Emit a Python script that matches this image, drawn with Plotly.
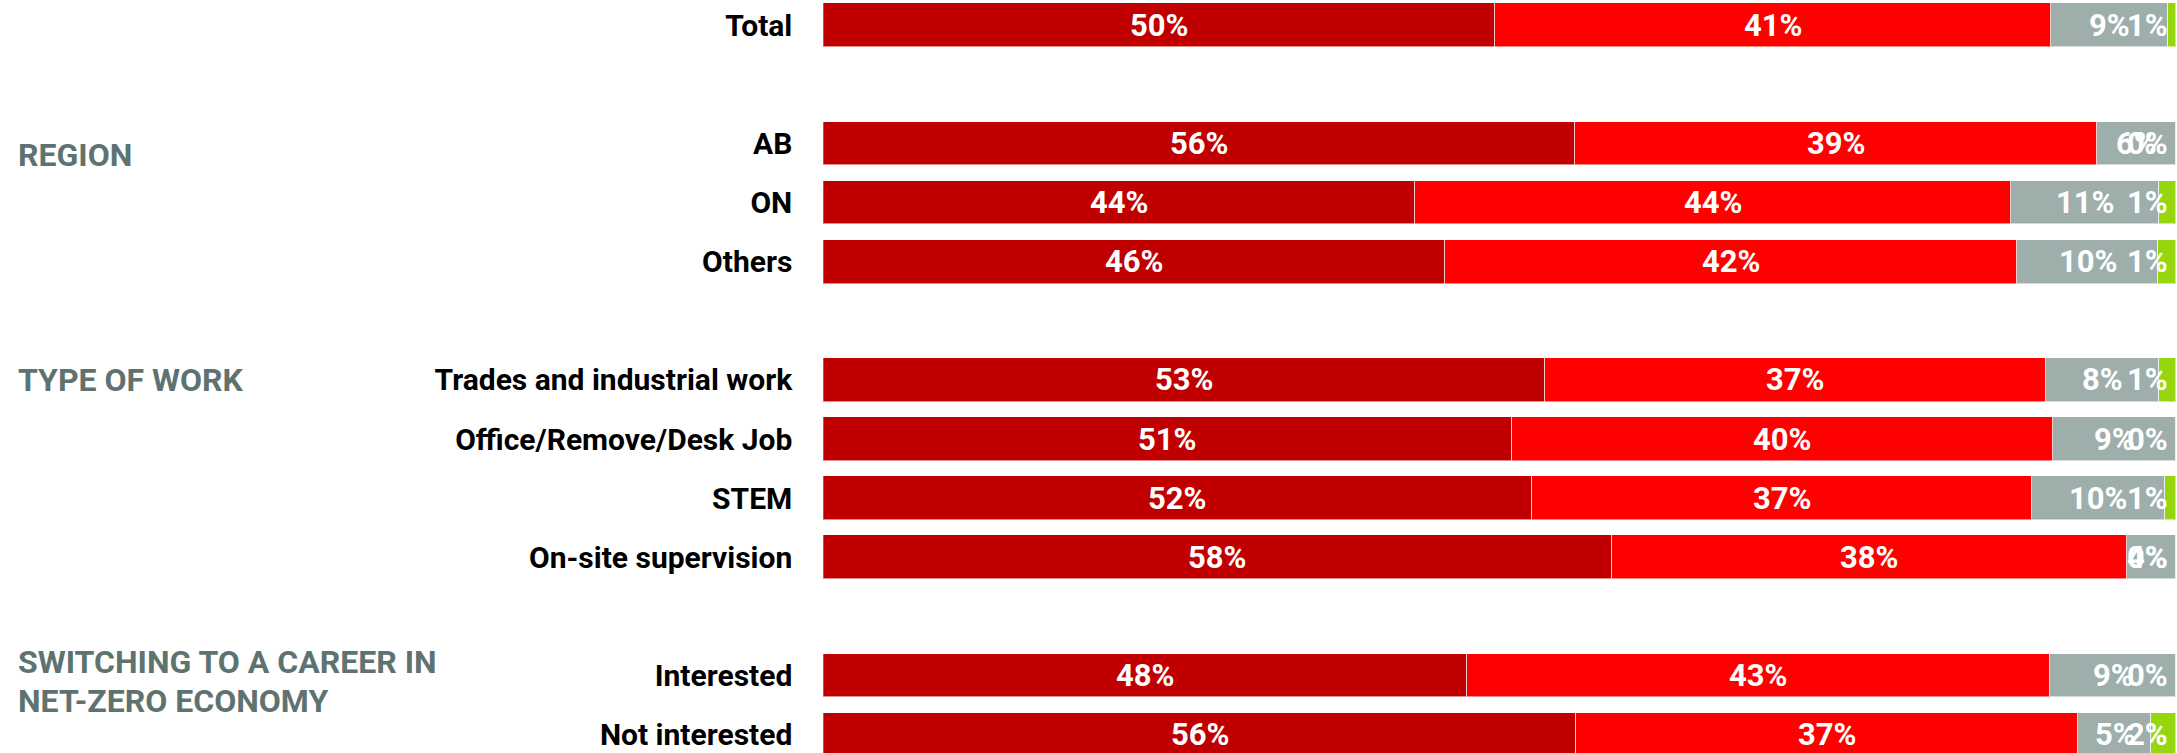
import plotly.graph_objects as go

# ---- data ----
groups = ["", "REGION", "TYPE OF WORK", "SWITCHING TO A CAREER IN<br>NET-ZERO ECONOMY"]
group_rows = [
    ["Total"],
    ["AB", "ON", "Others"],
    ["Trades and industrial work", "Office/Remove/Desk Job", "STEM", "On-site supervision"],
    ["Interested", "Not interested"],
]
series_names = ["Very concerned", "Somewhat concerned", "Not very concerned", "Not at all concerned"]
s1 = [49.7, 55.6, 43.8, 46.0, 53.4, 50.9, 52.4, 58.3, 47.6, 55.7]
s2 = [41.1, 38.6, 44.0, 42.3, 37.0, 40.0, 37.0, 38.1, 43.1, 37.1]
s3 = [8.6, 5.8, 11.0, 10.4, 8.4, 9.1, 9.8, 3.6, 9.3, 5.4]
s4 = [0.6, 0.0, 1.2, 1.3, 1.2, 0.0, 0.8, 0.0, 0.0, 1.8]
colors = ["#C00000", "#FF0000", "#9DAEAB", "#96D60F"]

# ---- layout of rows (blank slot between groups) ----
categories, ypos, group_y = [], [], []
slot = 0
for gi, rows in enumerate(group_rows):
    if gi > 0:
        slot += 1
    group_y.append(slot)
    for r in rows:
        categories.append(r)
        ypos.append(slot)
        slot += 1

W, H = 2177, 753
FONT = "Roboto"
fig = go.Figure()
series = [s1, s2, s3, s4]
for name, vals, c in zip(series_names, series, colors):
    fig.add_trace(go.Bar(
        y=ypos, x=vals, orientation="h", name=name, width=0.74,
        marker=dict(color=c, line=dict(color="rgba(255,255,255,0.55)", width=1)),
        hoverinfo="skip",
    ))

# value labels
cum = [0.0] * len(ypos)
for vals in series:
    for i, v in enumerate(vals):
        cx = cum[i] + v / 2
        cx = min(cx, 97.9)
        fig.add_annotation(x=cx, y=ypos[i], xref="x", yref="y", text=f"{v:.0f}%",
                           showarrow=False, xanchor="center", yanchor="middle",
                           font=dict(family=FONT, size=31, color="white", weight=700))
        cum[i] += v

# group headings (one annotation per line to control line spacing)
head_offsets = [0, 0.2, 0, 0.1]
line_step = 0.66
for g, gy, off in zip(groups, group_y, head_offsets):
    if not g:
        continue
    lines = g.split("<br>")
    n = len(lines)
    for k, line in enumerate(lines):
        yy = gy + off + (k - (n - 1) / 2) * line_step
        fig.add_annotation(x=16 / W, y=yy, xref="paper", yref="y",
                           text=line, showarrow=False, xanchor="left", yanchor="middle", align="left",
                           font=dict(family=FONT, size=32, color="#5E7370", weight=700))

fig.update_layout(
    width=W, height=H, barmode="stack", showlegend=False, bargap=0,
    margin=dict(l=0, r=0, t=0, b=0),
    paper_bgcolor="white", plot_bgcolor="white",
    xaxis=dict(range=[0, 100], domain=[823.3 / W, 2176 / W], visible=False, fixedrange=True),
    yaxis=dict(range=[12.313, -0.428], tickvals=ypos, ticktext=categories, showgrid=False,
               zeroline=False, showline=False, ticks="", ticklabelstandoff=30, fixedrange=True,
               tickfont=dict(family=FONT, size=30, color="black", weight=700)),
)
fig.write_html("out.html", config={"displayModeBar": False},
               post_script="document.body.style.margin='0';document.body.style.overflow='hidden';")
